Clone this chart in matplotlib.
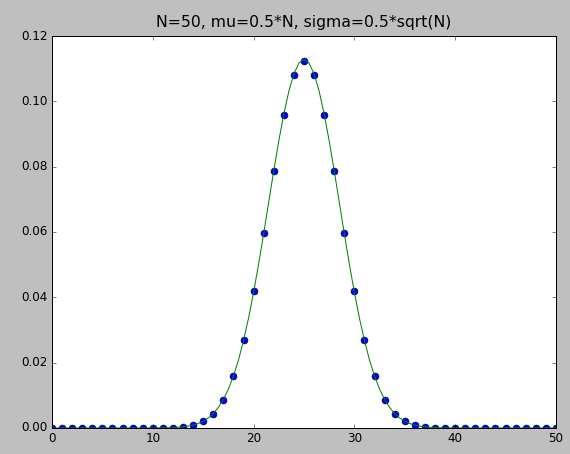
import matplotlib
matplotlib.use('Agg')
import matplotlib.pyplot as plt

plt.style.use('classic')

# binomial probabilities, k = 0..50
k = list(range(51))
p_dots = [0.0] * 11 + [
    0.00003, 0.00011, 0.00032, 0.00083, 0.00199, 0.00434, 0.00871, 0.01602,
    0.02701, 0.04186, 0.05980, 0.07870, 0.09596, 0.10796, 0.11228,
    0.10796, 0.09596, 0.07870, 0.05980, 0.04186, 0.02701, 0.01602, 0.00871,
    0.00434, 0.00199, 0.00083, 0.00032, 0.00011, 0.00003,
] + [0.0] * 11

# smooth curve values at half steps
x_curve = [0, 5, 10, 11, 12, 12.5, 13, 13.5, 14, 14.5, 15, 15.5, 16, 16.5, 17, 17.5,
           18, 18.5, 19, 19.5, 20, 20.5, 21, 21.5, 22, 22.5, 23, 23.5, 24, 24.5,
           25, 25.5, 26, 26.5, 27, 27.5, 28, 28.5, 29, 29.5, 30, 30.5, 31, 31.5,
           32, 32.5, 33, 33.5, 34, 34.5, 35, 35.5, 36, 36.5, 37, 37.5, 38, 39,
           40, 45, 50]
y_curve = [0.0, 0.0, 0.0, 0.00004, 0.00013, 0.00023, 0.00036, 0.00057, 0.00089,
           0.00137, 0.00207, 0.00305, 0.00442, 0.00627, 0.00872, 0.01189,
           0.01589, 0.02082, 0.02674, 0.03365, 0.04151, 0.05020, 0.05950,
           0.06913, 0.07873, 0.08788, 0.09616, 0.10313, 0.10842, 0.11172,
           0.11284, 0.11172, 0.10842, 0.10313, 0.09616, 0.08788, 0.07873,
           0.06913, 0.05950, 0.05020, 0.04151, 0.03365, 0.02674, 0.02082,
           0.01589, 0.01189, 0.00872, 0.00627, 0.00442, 0.00305, 0.00207,
           0.00137, 0.00089, 0.00057, 0.00036, 0.00023, 0.00013, 0.00004,
           0.0, 0.0, 0.0]

fig = plt.figure(figsize=(570 / 72, 454 / 72), dpi=72)
ax = fig.add_axes([0.0912, 0.0573, 0.8842, 0.8634])

ax.plot(k, p_dots, 'bo', markersize=7)
ax.plot(x_curve, y_curve, 'g-')

ax.set_xlim(0, 50)
ax.set_ylim(0, 0.12)
ax.set_title('N=50, mu=0.5*N, sigma=0.5*sqrt(N)', fontsize=15.8, pad=9)

fig.savefig('out.png', dpi=72, facecolor=fig.get_facecolor())
